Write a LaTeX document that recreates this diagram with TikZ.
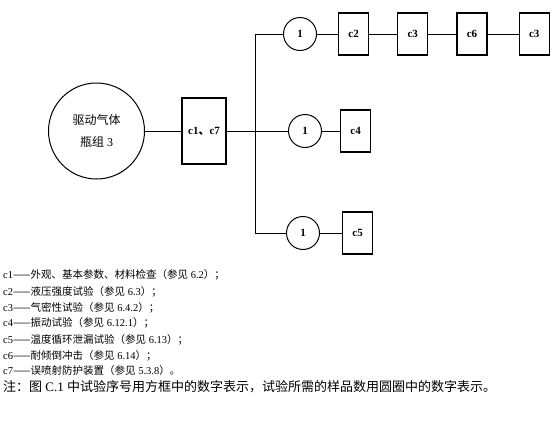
\documentclass[tikz,border=0pt]{standalone}
\usepackage{fontspec}
\setmainfont{Liberation Serif}
\newfontfamily\cjk{Noto Sans CJK SC}
\usetikzlibrary{positioning}

\begin{document}
\begin{tikzpicture}[x=1pt,y=-1pt,
  smp/.style={circle,draw,line width=1pt,minimum size=33pt,inner sep=0pt,font=\fontsize{11}{11}\selectfont\bfseries},
  tst/.style={rectangle,draw,line width=1.2pt,minimum width=30pt,minimum height=42pt,inner sep=1pt,font=\fontsize{11}{11}\selectfont\bfseries},
  lnk/.style={line width=0.9pt},
  leg/.style={anchor=west,inner sep=0pt,font=\fontsize{10.5}{10.5}\selectfont}]

  \useasboundingbox (0,0) rectangle (552,434);

  % source and first test
  \node[circle,draw,line width=1pt,minimum size=96pt,align=center,font=\fontsize{12}{22}\selectfont] (gas) at (96.5,131) {{\cjk 驱动气体}\\{\cjk 瓶组} 3};
  \node[tst,minimum width=44pt,minimum height=66pt] (b17) at (204,131) {c1{\cjk 、}c7};

  % top row
  \node[smp] (t1) at (300,34) {1};
  \node[tst,right=21pt of t1] (c2) {c2};
  \node[tst,right=28pt of c2] (c3) {c3};
  \node[tst,right=28pt of c3] (c6) {c6};
  \node[tst,right=31pt of c6] (c3b) {c3};

  % middle row
  \node[smp] (m1) at (305,131) {1};
  \node[tst,right=18pt of m1] (c4) {c4};

  % bottom row
  \node[smp] (u1) at (303,233) {1};
  \node[tst,right=22pt of u1] (c5) {c5};

  \coordinate (jt) at (255,34);
  \coordinate (jb) at (255,233);

  \draw[lnk] (gas) -- (b17);
  \draw[lnk] (b17) -- (m1);
  \draw[lnk] (t1) -- (jt) -- (jb) -- (u1);
  \draw[lnk] (t1) -- (c2) (c2) -- (c3) (c3) -- (c6) (c6) -- (c3b);
  \draw[lnk] (m1) -- (c4);
  \draw[lnk] (u1) -- (c5);

  % legend
  \node[leg] (l1) at (3,275) {c1{\cjk ——外观、基本参数、材料检查（参见} 6.2{\cjk ）；}};
  \node[leg] (l2) at (3,292) {c2{\cjk ——液压强度试验（参见} 6.3{\cjk ）；}};
  \node[leg] (l3) at (3,308) {c3{\cjk ——气密性试验（参见} 6.4.2{\cjk ）；}};
  \node[leg] (l4) at (3,323) {c4{\cjk ——振动试验（参见} 6.12.1{\cjk ）；}};
  \node[leg] (l5) at (3,340) {c5{\cjk ——温度循环泄漏试验（参见} 6.13{\cjk ）；}};
  \node[leg] (l6) at (3,356) {c6{\cjk ——耐倾倒冲击（参见} 6.14{\cjk ）；}};
  \node[leg] (l7) at (3,371) {c7{\cjk ——误喷射防护装置（参见} 5.3.8{\cjk ）。}};
  \node[leg,font=\fontsize{13}{13}\selectfont] (nt) at (3,387) {{\cjk 注：图} C.1 {\cjk 中试验序号用方框中的数字表示，试验所需的样品数用圆圈中的数字表示。}};
\end{tikzpicture}
\end{document}
